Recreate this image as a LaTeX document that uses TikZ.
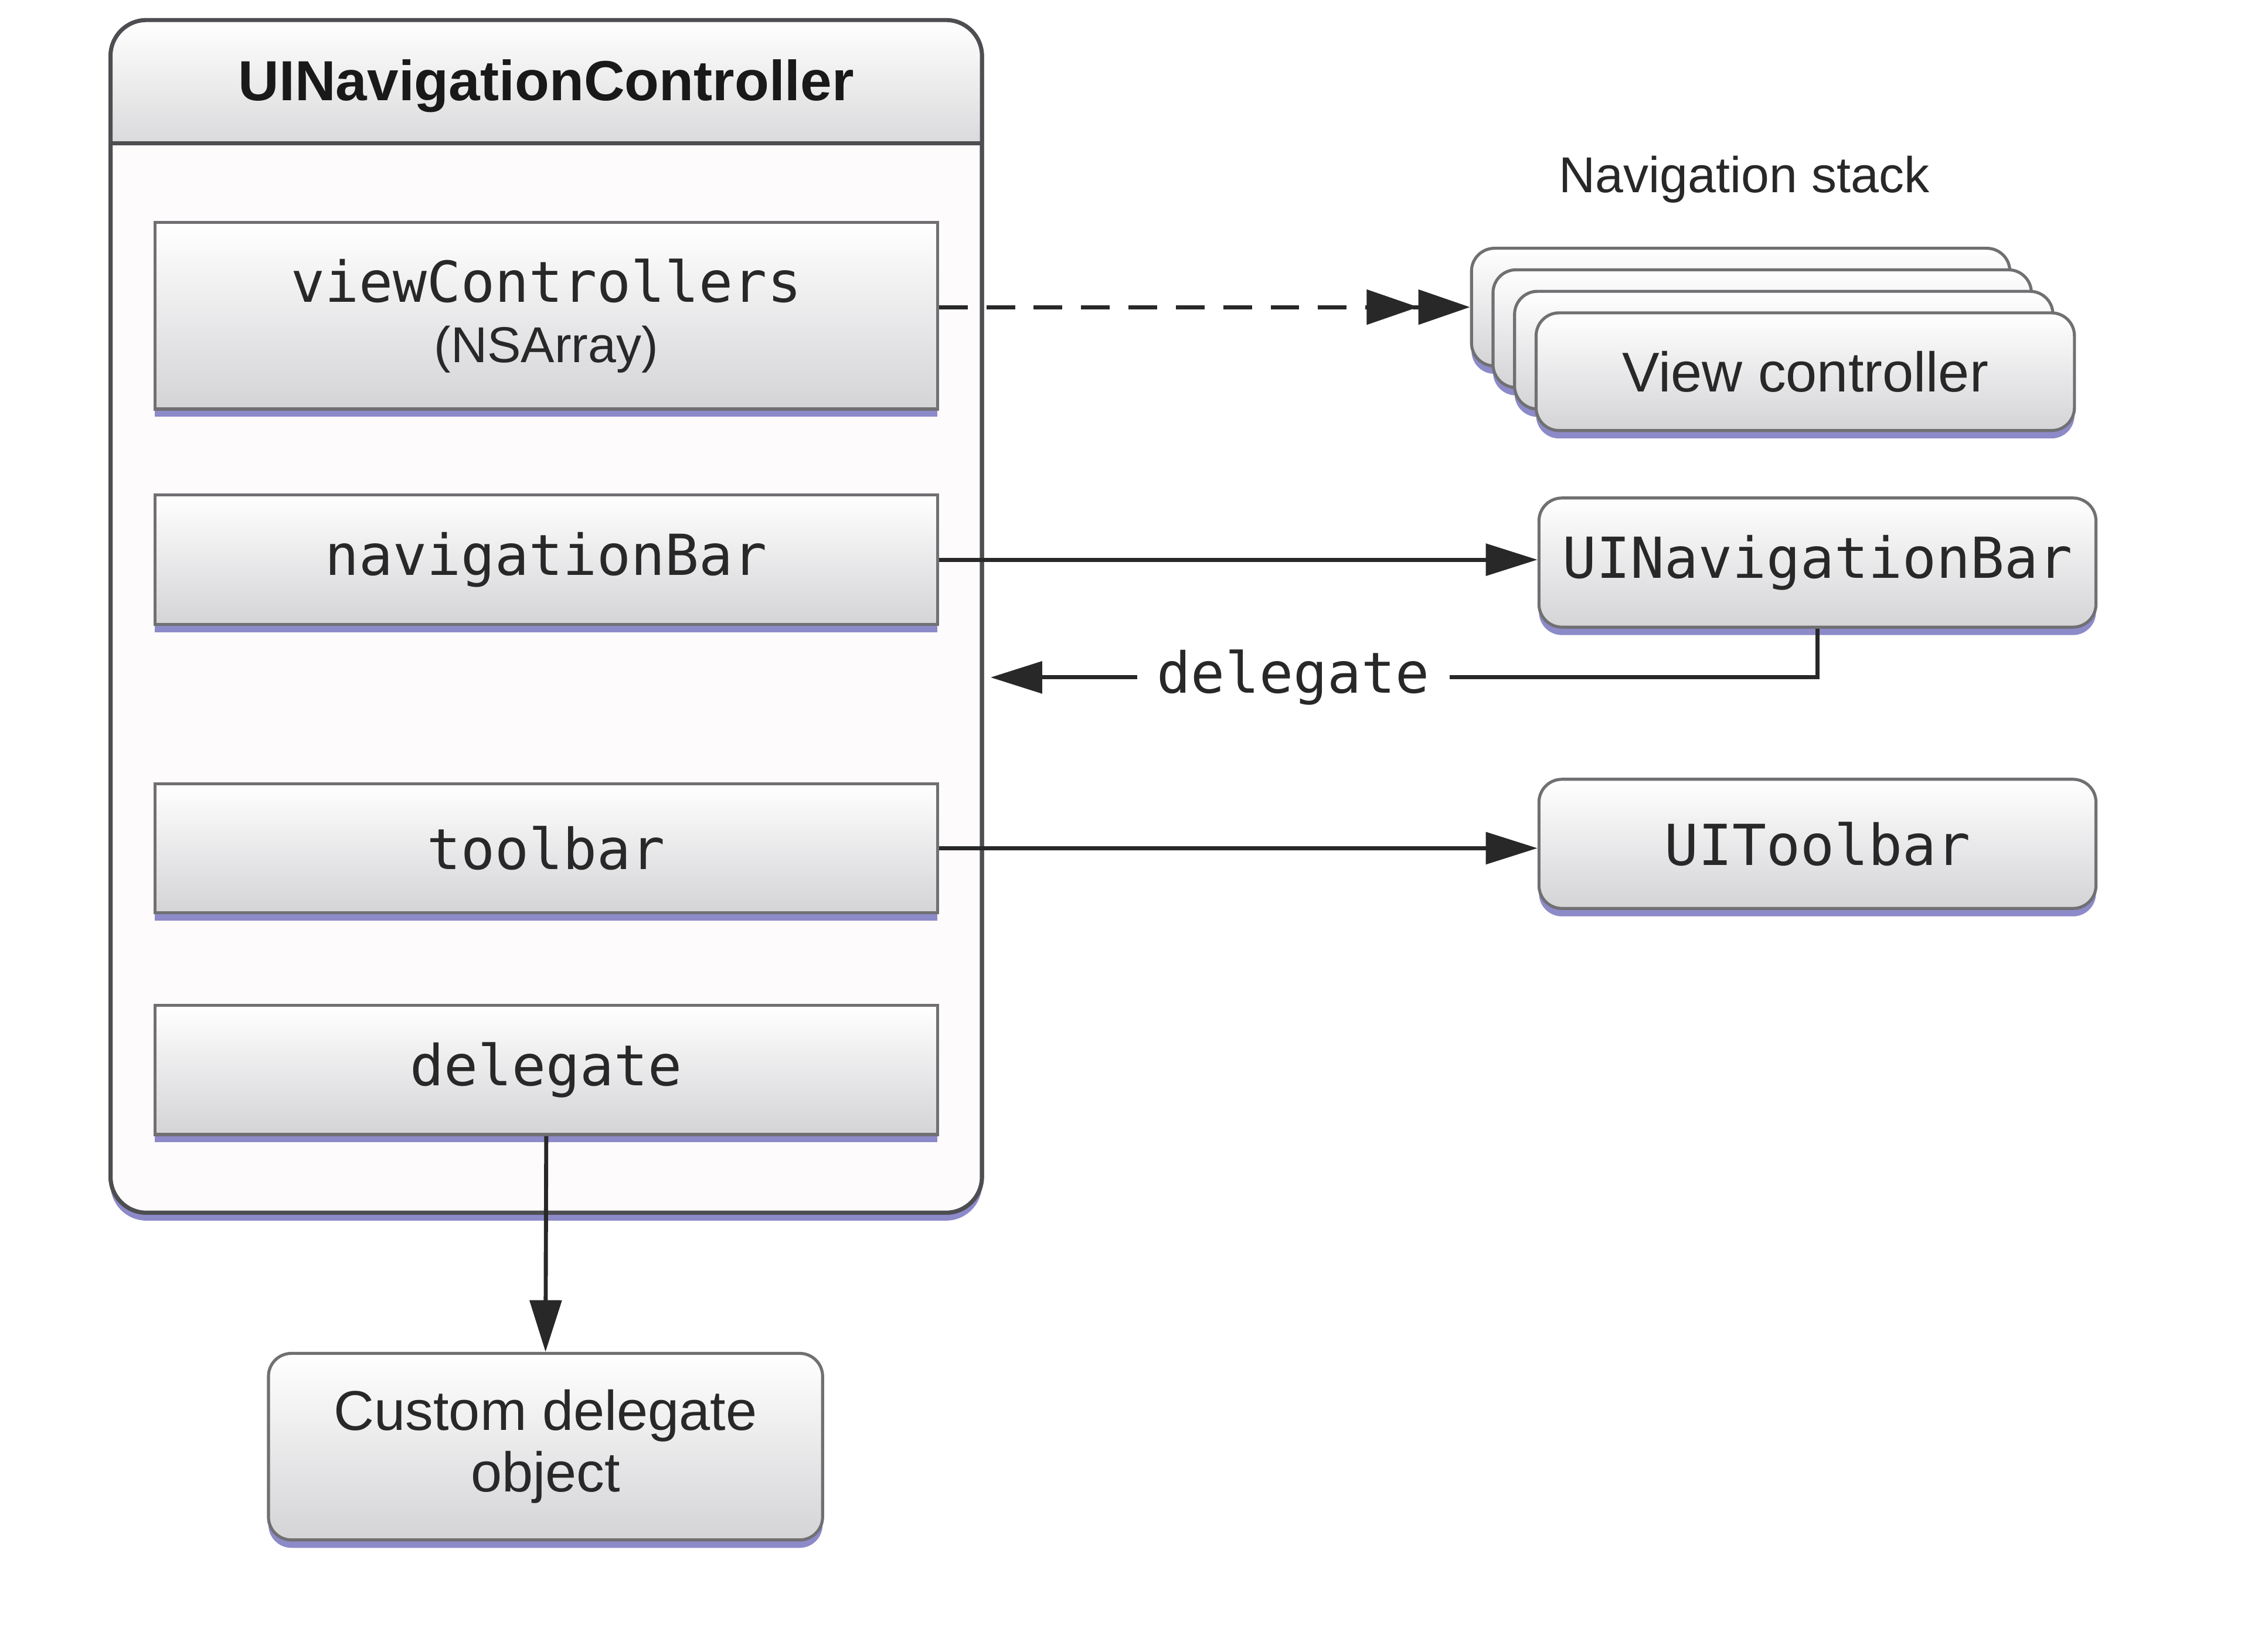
\documentclass[tikz,border=0pt]{standalone}
\usepackage{fontspec}
\setmainfont{Liberation Sans}
\setmonofont{DejaVu Sans Mono}
\usetikzlibrary{arrows.meta,shadows}

\definecolor{boxline}{RGB}{112,112,115}
\definecolor{frameline}{RGB}{78,78,82}
\definecolor{boxbottom}{RGB}{212,212,215}
\definecolor{hdrbottom}{RGB}{218,218,220}
\definecolor{shadowblue}{RGB}{140,138,200}
\definecolor{framefill}{RGB}{253,251,252}
\definecolor{textgray}{RGB}{40,40,40}

\tikzset{
  boxshadow/.style={drop shadow={shadow xshift=0pt, shadow yshift=-0.55mm, fill=shadowblue, opacity=1}},
  propbox/.style={rectangle, draw=boxline, line width=0.6pt, top color=white, bottom color=boxbottom,
    minimum width=5.45cm, minimum height=0.9cm, text=textgray, font=\fontsize{11.2}{13}\selectfont\ttfamily, boxshadow},
  objbox/.style={rectangle, rounded corners=1.6mm, draw=boxline, line width=0.6pt, top color=white, bottom color=boxbottom,
    text=textgray, font=\fontsize{11.1}{12.2}\selectfont, boxshadow},
  arr/.style={line width=0.8pt, draw=textgray, -{Triangle[length=3.6mm,width=2.2mm]}},
  dblarr/.style={line width=0.8pt, draw=textgray, dash pattern=on 2mm off 1.3mm,
    -{Triangle[length=3.6mm,width=2.4mm] Triangle[length=3.6mm,width=2.4mm]}},
}

\begin{document}
\begin{tikzpicture}
      \useasboundingbox (0,0) rectangle (15.68,11.51);

      % Container
      \node (nc) at (3.805,7.215) [rectangle, rounded corners=2.5mm, draw=frameline, line width=0.8pt, outer sep=0pt,
        fill=framefill, minimum width=6.07cm, minimum height=8.31cm, boxshadow] {};
      \begin{scope}
        \clip[rounded corners=2.5mm] (nc.south west) rectangle (nc.north east);
        \fill[top color=white, bottom color=hdrbottom] (nc.north west) rectangle ([yshift=-0.86cm]nc.north east);
      \end{scope}
      \draw[frameline, line width=0.8pt] ([yshift=-0.86cm]nc.north west) -- ([yshift=-0.86cm]nc.north east);
      \draw[frameline, line width=0.8pt, rounded corners=2.5mm] (nc.south west) rectangle (nc.north east);
      \node (title) at (3.805,10.91) [text=black!90, font=\fontsize{11.2}{13}\selectfont\bfseries] {UINavigationController};

      % Nodes
      \node (vcprop) at (3.805,9.31) [propbox, minimum height=1.3cm, align=center]
        {viewControllers\\[-1pt]{\fontsize{10}{12}\rmfamily (NSArray)}};
      \node (navprop) at (3.805,7.61) [propbox] {navigationBar};
      \node (toolprop) at (3.805,5.60) [propbox] {toolbar};
      \node (dlgprop) at (3.805,4.055) [propbox] {delegate};

      \node (custom) at (3.80,1.43) [objbox, minimum width=3.86cm, minimum height=1.30cm, align=center] {Custom delegate\\object};

      \node (stacklabel) at (12.15,10.26) [text=textgray, font=\fontsize{10}{12}\selectfont] {Navigation stack};
      \node (vc1) at (12.125,9.37) [objbox, minimum width=3.75cm, minimum height=0.82cm] {};
      \node (vc2) at (12.275,9.22) [objbox, minimum width=3.75cm, minimum height=0.82cm] {};
      \node (vc3) at (12.425,9.07) [objbox, minimum width=3.75cm, minimum height=0.82cm] {};
      \node (vc4) at (12.575,8.92) [objbox, minimum width=3.75cm, minimum height=0.82cm] {View controller};

      \node (uinavbar) at (12.66,7.59) [objbox, font=\fontsize{11.2}{13}\selectfont\ttfamily, minimum width=3.88cm, minimum height=0.9cm] {UINavigationBar};
      \node (uitoolbar) at (12.66,5.63) [objbox, font=\fontsize{11.2}{13}\selectfont\ttfamily, minimum width=3.88cm, minimum height=0.9cm] {UIToolbar};
      \coordinate (dlgend) at (6.90,6.79);

      % Edges
      \draw[dblarr] (vcprop.east |- vc1.west) -- (vc1.west);
      \draw[arr] (navprop.east) -- (navprop.east -| uinavbar.west);
      \draw[arr] (uinavbar.south) |- node[pos=0.817, fill=white, inner xsep=1.4mm, text=textgray,
        font=\fontsize{11.2}{13}\selectfont\ttfamily] {delegate} (dlgend);
      \draw[arr] (toolprop.east) -- (toolprop.east -| uitoolbar.west);
      \draw[arr] (dlgprop.south) -- (custom.north);
  \end{tikzpicture}
\end{document}
